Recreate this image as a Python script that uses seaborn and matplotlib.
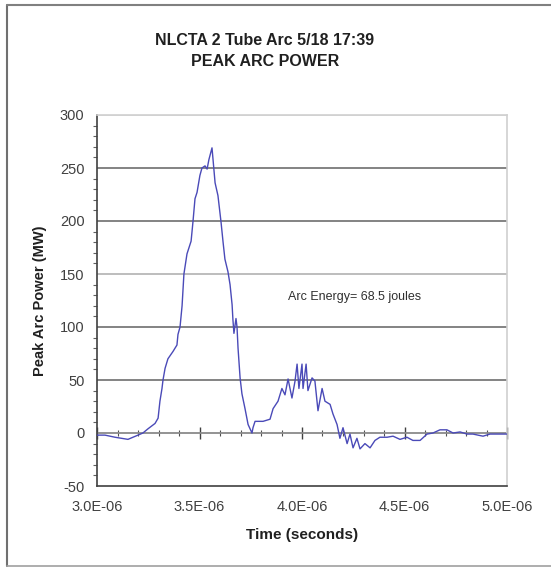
import matplotlib
matplotlib.use("Agg")
import matplotlib.pyplot as plt
import matplotlib.ticker as mticker
from matplotlib.lines import Line2D
import numpy as np
import pandas as pd
import seaborn as sns

# ---- data (time in microseconds, power in MW) ----
time_us = [3.000, 3.039, 3.088, 3.151, 3.200, 3.224, 3.249, 3.283, 3.298, 3.307,
           3.317, 3.322, 3.332, 3.346, 3.371, 3.390, 3.395, 3.405, 3.415, 3.424,
           3.439, 3.459, 3.468, 3.478, 3.488, 3.502, 3.512, 3.527, 3.537, 3.546,
           3.561, 3.566, 3.576, 3.590, 3.605, 3.615, 3.624, 3.639, 3.649, 3.659,
           3.663, 3.668, 3.678, 3.683, 3.688, 3.698, 3.707, 3.722, 3.737, 3.756,
           3.761, 3.771, 3.810, 3.844, 3.859, 3.883, 3.902, 3.917, 3.932, 3.951,
           3.966, 3.976, 3.985, 4.000, 4.005, 4.020, 4.029, 4.049, 4.063, 4.078,
           4.098, 4.112, 4.137, 4.151, 4.171, 4.185, 4.200, 4.220, 4.234, 4.249,
           4.268, 4.283, 4.307, 4.332, 4.356, 4.380, 4.415, 4.444, 4.478, 4.512,
           4.541, 4.576, 4.610, 4.639, 4.673, 4.707, 4.737, 4.771, 4.805, 4.834,
           4.883, 4.917, 4.966, 5.000]
power_mw = [-2, -2, -4, -6, -2, 0, 4, 9, 14, 30,
            42, 50, 61, 70, 77, 83, 93, 100, 120, 150,
            169, 181, 199, 221, 227, 243, 250, 252, 249, 258,
            269, 258, 236, 224, 199, 180, 164, 152, 140, 121,
            107, 94, 108, 100, 80, 52, 37, 23, 8, 0,
            5, 11, 11, 13, 23, 30, 42, 36, 51, 33,
            49, 65, 42, 65, 42, 65, 40, 52, 49, 21,
            42, 30, 27, 18, 8, -5, 5, -10, -1, -14,
            -5, -15, -10, -14, -7, -4, -4, -3, -6, -4,
            -7, -7, -1, 0, 3, 3, 0, 1, -1, -1,
            -3, -1, -1, -1]

x_ticks = [3.0e-6, 3.5e-6, 4.0e-6, 4.5e-6, 5.0e-6]
x_tick_labels = ["3.0E-06", "3.5E-06", "4.0E-06", "4.5E-06", "5.0E-06"]
y_ticks = [-50, 0, 50, 100, 150, 200, 250, 300]

title_text = "NLCTA 2 Tube Arc 5/18 17:39\nPEAK ARC POWER"
x_label = "Time (seconds)"
y_label = "Peak Arc Power (MW)"
note_text = "Arc Energy= 68.5 joules"

df = pd.DataFrame({"time": np.array(time_us) * 1e-6, "power": power_mw})

sns.set_style("white")
plt.rcParams["font.family"] = ["Liberation Sans", "DejaVu Sans"]
plt.rcParams["axes.unicode_minus"] = False

fig = plt.figure(figsize=(5.51, 5.71), dpi=100)
fig.patch.set_facecolor("white")
W, H = 551, 571
ax = fig.add_axes([97 / W, (H - 486) / H, 410 / W, 371 / H])

# outer frame (left, top, bottom)
fig.add_artist(Line2D([7 / W, 7 / W], [1 - 566 / H, 1 - 5 / H], color="#707070", lw=1.5,
                      transform=fig.transFigure))
fig.add_artist(Line2D([7 / W, 1.0], [1 - 5 / H, 1 - 5 / H], color="#808080", lw=1.5,
                      transform=fig.transFigure))
fig.add_artist(Line2D([7 / W, 1.0], [1 - 566 / H, 1 - 566 / H], color="#a0a0a0", lw=1.2,
                      transform=fig.transFigure))

# gridlines
for v in y_ticks[2:]:
    if v == 150:
        c = "#b8b8b8"
    elif v == 300:
        c = "#d8d8d8"
    else:
        c = "#7a7a7a"
    ax.axhline(v, color=c, lw=1.3, zorder=1)
ax.axhline(0, color="#8a8a8a", lw=1.3, zorder=1)

sns.lineplot(data=df, x="time", y="power", ax=ax, color="#4a4ab8", lw=1.0,
             zorder=3, estimator=None, sort=False)

ax.set_xlim(3.0e-6, 5.0e-6)
ax.set_ylim(-50, 300)

ax.set_yticks(y_ticks)
ax.yaxis.set_minor_locator(mticker.MultipleLocator(10))
ax.tick_params(axis="y", which="major", direction="out", length=5, width=1,
               color="#404040", labelsize=10.5, labelcolor="#404040", pad=4)
ax.tick_params(axis="y", which="minor", direction="out", length=3, width=0.8,
               color="#606060", left=True)

ax.set_xticks(x_ticks)
ax.set_xticklabels(x_tick_labels)
ax.tick_params(axis="x", which="major", length=0, labelsize=10.5,
               labelcolor="#404040", pad=10)

# tick marks on the zero line
zero_frac = (0 - (-50)) / 350
sec = ax.secondary_xaxis(zero_frac)
sec.set_xticks(x_ticks)
sec.set_xticklabels([])
sec.xaxis.set_minor_locator(mticker.MultipleLocator(1.0e-7))
sec.tick_params(axis="x", which="major", direction="inout", length=8, width=1.0,
                color="#404040")
sec.tick_params(axis="x", which="minor", direction="inout", length=5, width=0.8,
                color="#505050")
sec.spines["bottom"].set_visible(False)

for s in ["left", "bottom"]:
    ax.spines[s].set_color("#404040")
    ax.spines[s].set_linewidth(1.2)
for s in ["right", "top"]:
    ax.spines[s].set_visible(True)
    ax.spines[s].set_color("#d0d0d0")
    ax.spines[s].set_linewidth(1.2)

ax.set_xlabel(x_label, fontsize=11, fontweight="bold", color="#202020", labelpad=10)
ax.set_ylabel(y_label, fontsize=10.5, fontweight="bold", color="#202020", labelpad=9)

fig.text(265 / W, 1 - 51 / H, title_text, ha="center", va="center", fontsize=11.5,
         fontweight="bold", color="#202020", linespacing=1.45)

ax.text(355 / W, 1 - 297 / H, note_text, transform=fig.transFigure, ha="center",
        va="center", fontsize=9, color="#303030")

fig.savefig("out.png", dpi=100, facecolor="white")
